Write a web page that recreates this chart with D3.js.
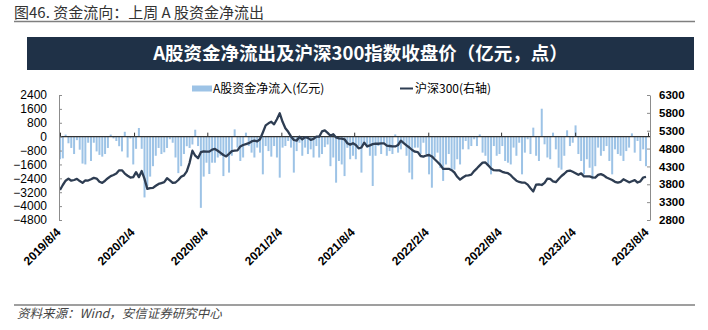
<!DOCTYPE html>
<html><head><meta charset="utf-8">
<script src="https://cdn.jsdelivr.net/npm/d3@7"></script>
<style>body{margin:0;background:#fff}svg{display:block}</style>
</head><body><svg id="c" width="708" height="330"></svg>
<script>
const tickLabels = ["2019/8/4","2020/2/4","2020/8/4","2021/2/4","2021/8/4","2022/2/4","2022/8/4","2023/2/4","2023/8/4"];
const leftTicks = [2400,1600,800,0,-800,-1600,-2400,-3200,-4000,-4800];
const rightTicks = [6300,5800,5300,4800,4300,3800,3300,2800];
const seriesNames = ["A股资金净流入(亿元)","沪深300(右轴)"];
const chartTitle = "A股资金净流出及沪深300指数收盘价（亿元，点）";
const figTitle = "图46. 资金流向：上周 A 股资金净流出";
const sourceNote = "资料来源：Wind，安信证券研究中心";

// weekly net inflow of A-share funds (亿元)
const flows = [
-1300,-1250,120,-380,-650,-1000,-200,-750,-1550,-1600,
-350,-1400,-350,-850,-1050,-1150,-1000,-650,120,-100,
-250,-550,-850,280,-1200,-100,-1600,-700,500,-700,
-3500,-2850,-2300,-1700,-1100,-650,-1000,-900,-650,-150,
-350,-1200,-2100,-1700,-1000,-550,-650,-450,400,-540,
-4100,-2300,
-1500,-2150,-1500,-1500,-1200,-1100,-2270,-1100,-2070,-1100,
420,-630,-1400,-1200,230,-540,-920,-1200,-630,-920,
-2170,-540,-830,-1150,-540,-1200,-2360,-630,-540,-250,
-630,-2070,-830,-350,-1100,-630,-1000,-730,-1200,-540,
-1200,-1000,-600,-450,-1700,-1200,-2650,-1400,-1600,-2270,
-640,-1300,-1100,-1300,-540,-2070,-440,-630,-1100,-2840,
-1100,-540,-1000,-440,-1100,-830,-1000,130,-920,-730,
-350,-1100,-2070,-2460,-630,-630,-1000,-350,-1000,-2170,
-2940,-1200,-920,-1800,-2550,-1600,-1000,-1980,-1900,-1300,
-1600,-730,-250,-730,-540,-150,-540,130,-920,-1100,
-1700,-2170,
-540,-1100,-1000,-540,-1400,-1500,-1600,-630,-1100,-350,
-2170,-920,-150,-1000,520,-1100,-1400,1610,-440,-1200,
-1300,230,-730,-1790,-1900,-1100,365,-540,-350,650,
-1000,-1400,-2170,-1300,-1790,-2460,-1700,-630,-1100,-830,
-540,-1400,-2170,-730,-1000,-1100,-1400,-830,-630,190,
-920,-250,-1400,-730,-1700
];

// CSI 300 weekly close (点)
const csi300 = [
3640,3780,3900,3960,3900,3920,3950,3890,3840,3910,
3905,3940,3980,3960,3870,3840,3900,3970,4030,4060,
4100,4190,4190,4100,4040,3990,4000,4140,4000,4170,
3950,3670,3690,3700,3760,3810,3835,3860,3970,3910,
3840,3850,3920,4010,4050,4160,4400,4740,4600,4530,
4700,4720,
4713,4713,4770,4790,4740,4680,4620,4580,4650,4730,
4740,4750,4860,4900,4925,4950,5000,5020,5000,5060,
5250,5450,5507,5550,5480,5620,5787,5550,5370,5270,
5140,5040,5020,5130,5060,5120,5100,5045,5070,5133,
5133,5280,5310,5240,5160,5200,5110,5085,5080,5060,
4950,4910,4950,4900,4807,4830,4965,4860,4890,4925,
4940,4935,4947,4947,4885,4872,4860,4860,4900,5020,
4955,4890,4830,4760,4713,4700,4592,4576,4606,4620,
4580,4500,4425,4345,4230,4230,4233,4195,4130,4010,
3930,3990,4040,4050,4070,4170,4247,4330,4405,4410,
4330,4240,
4195,4190,4190,4150,4125,4110,4055,3970,3900,3865,
3845,3845,3790,3690,3600,3790,3800,3780,3840,3960,
3950,3880,3860,3950,4032,4095,4170,4185,4150,4110,
4065,4105,4020,4020,4020,3995,3985,4062,4085,4050,
3990,3955,3920,3870,3845,3868,3940,3900,3855,3885,
3915,3850,3880,3990,4010
];

const parseD = s => { const p = s.split("/").map(Number); return new Date(p[0], p[1]-1, p[2]); };
const startDate = parseD(tickLabels[0]);
const dates = d3.timeWeek.range(startDate, d3.timeDay.offset(startDate, 7*flows.length));
const tickDates = tickLabels.map(parseD);

const barColor = "#9dc3e6", lineColor = "#2e3d52", axisColor = "#8c8c8c";
const numFont = "'Liberation Sans', Arial, sans-serif";
const cjkFont = "'Noto Sans CJK SC', 'Liberation Sans', sans-serif";
const plain = d3.format("d");

const svg = d3.select("#c");
svg.append("rect").attr("width",708).attr("height",330).attr("fill","#fff");

// figure title and rules
svg.append("text").attr("x",14).attr("y",18).text(figTitle)
  .style("font-family",cjkFont).style("font-size","15px").attr("fill","#333");
svg.append("line").attr("x1",14).attr("x2",695).attr("y1",21.5).attr("y2",21.5)
  .attr("stroke","#7f7f7f").attr("stroke-width",1.5);
svg.append("line").attr("x1",14).attr("x2",695).attr("y1",305).attr("y2",305)
  .attr("stroke","#7f7f7f").attr("stroke-width",1.5);
svg.append("text").attr("x",17).attr("y",318).text(sourceNote)
  .style("font-family",cjkFont).style("font-size","12.5px").style("font-style","italic")
  .attr("fill","#444");

// chart header box
svg.append("rect").attr("x",27).attr("y",37).attr("width",667).attr("height",33).attr("fill","#1f3147");
svg.append("text").attr("x",360.5).attr("y",60).attr("text-anchor","middle").text(chartTitle)
  .style("font-family",cjkFont).style("font-size","18.5px").style("font-weight","bold").attr("fill","#fff");

// scales
const x0 = 60, x1 = 648, yTop = 95, yBot = 220;
const x = d3.scaleTime().domain([tickDates[0], tickDates[tickDates.length-1]]).range([x0, x1]);
const yL = d3.scaleLinear().domain([-4800, 2400]).range([yBot, yTop]);
const yR = d3.scaleLinear().domain([2800, 6300]).range([yBot, yTop]);

// bars
svg.append("g").selectAll("rect").data(flows).join("rect")
  .attr("x",(d,i)=>x(dates[i])-1)
  .attr("width",2)
  .attr("y",d=>Math.min(yL(0), yL(d)))
  .attr("height",d=>Math.abs(yL(d)-yL(0)))
  .attr("fill",barColor);

// zero category axis with ticks
const zeroAxis = svg.append("g").attr("transform",`translate(0,${yL(0)})`)
  .call(d3.axisBottom(x).tickValues(tickDates).tickSize(-4).tickSizeOuter(0).tickFormat(""));
zeroAxis.select(".domain").remove();
zeroAxis.selectAll("line").attr("stroke","#333");
svg.append("line").attr("x1",59).attr("x2",650).attr("y1",yL(0)).attr("y2",yL(0))
  .attr("stroke","#333").attr("stroke-width",1.2);

// line
const line = d3.line().x((d,i)=>x(dates[i])).y(d=>yR(d)).curve(d3.curveLinear);
svg.append("path").datum(csi300).attr("d",line).attr("fill","none")
  .attr("stroke",lineColor).attr("stroke-width",2.3).attr("stroke-linejoin","round");

// left axis
const la = svg.append("g").attr("transform","translate(59,0)")
  .call(d3.axisLeft(yL).tickValues(leftTicks).tickFormat(plain).tickSize(-3).tickSizeOuter(0).tickPadding(12));
la.select(".domain").attr("stroke",axisColor);
la.selectAll("line").attr("stroke",axisColor);
la.selectAll("text").style("font-family",numFont).style("font-size","12px").attr("fill","#000");

// right axis
const ra = svg.append("g").attr("transform","translate(650,0)")
  .call(d3.axisRight(yR).tickValues(rightTicks).tickFormat(plain).tickSize(-3).tickSizeOuter(0).tickPadding(9));
ra.select(".domain").attr("stroke",axisColor);
ra.selectAll("line").attr("stroke",axisColor);
ra.selectAll("text").style("font-family",numFont).style("font-size","11.5px").style("font-weight","bold").attr("fill","#000");

// bottom date labels
const ba = svg.append("g").attr("transform",`translate(0,${yBot+9})`)
  .call(d3.axisBottom(x).tickValues(tickDates).tickSize(0).tickFormat((d,i)=>tickLabels[i]));
ba.select(".domain").remove();
ba.selectAll("text").attr("x",0).attr("y",0).attr("dy",null)
  .attr("text-anchor","end").attr("transform","translate(1,4) rotate(-45)")
  .style("font-family",numFont).style("font-size","12px").style("font-weight","bold").attr("fill","#000");

// legend
const lg = svg.append("g");
lg.append("rect").attr("x",192).attr("y",85.5).attr("width",20).attr("height",6).attr("fill",barColor);
lg.append("text").attr("x",213).attr("y",93).text(seriesNames[0])
  .style("font-family",cjkFont).style("font-size","12px").attr("fill","#000");
lg.append("line").attr("x1",400).attr("x2",413).attr("y1",88.5).attr("y2",88.5)
  .attr("stroke",lineColor).attr("stroke-width",2);
lg.append("text").attr("x",415).attr("y",93).text(seriesNames[1])
  .style("font-family",cjkFont).style("font-size","12px").attr("fill","#000");
</script>
</body></html>
